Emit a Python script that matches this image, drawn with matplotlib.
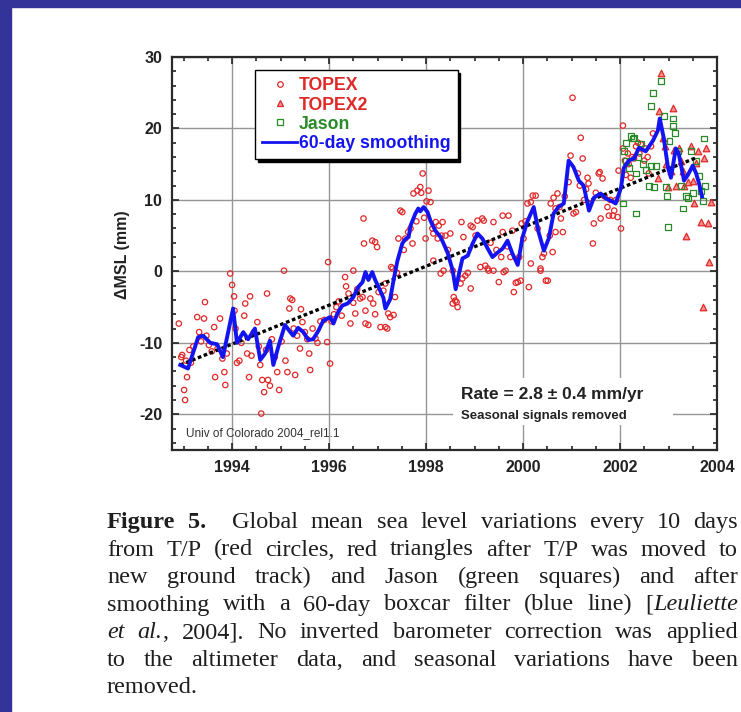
"""
Global mean sea level (T/P + Jason) figure with caption, redrawn from a slide.
Output: out.png (741 x 712 px)
"""

import matplotlib
matplotlib.use('Agg')
import matplotlib.pyplot as plt
from matplotlib.lines import Line2D
from matplotlib.patches import Rectangle
from matplotlib.ticker import MultipleLocator

plt.rcParams['font.family'] = ['Liberation Sans', 'DejaVu Sans']
plt.rcParams['axes.unicode_minus'] = False

# ============================ Data ============================
# TOPEX (red circles): decimal year, mm
topex_year = [
    1992.90, 1992.95, 1992.97, 1993.01, 1993.03, 1993.05, 1993.07, 1993.12, 1993.15, 1993.20,
    1993.28, 1993.32, 1993.36, 1993.42, 1993.44, 1993.47, 1993.52, 1993.58, 1993.63, 1993.65,
    1993.70, 1993.75, 1993.80, 1993.84, 1993.86, 1993.89, 1993.96, 1994.00, 1994.04, 1994.05,
    1994.07, 1994.10, 1994.15, 1994.19, 1994.25, 1994.27, 1994.31, 1994.35, 1994.37, 1994.40,
    1994.45, 1994.52, 1994.55, 1994.58, 1994.60, 1994.62, 1994.66, 1994.70, 1994.72, 1994.74,
    1994.78, 1994.82, 1994.88, 1994.93, 1994.97, 1995.02, 1995.07, 1995.10, 1995.14, 1995.18,
    1995.20, 1995.24, 1995.27, 1995.30, 1995.34, 1995.40, 1995.42, 1995.45, 1995.50, 1995.55,
    1995.59, 1995.61, 1995.66, 1995.72, 1995.76, 1995.82, 1995.90, 1995.96, 1995.98, 1996.02,
    1996.05, 1996.10, 1996.15, 1996.20, 1996.26, 1996.33, 1996.35, 1996.40, 1996.44, 1996.50,
    1996.50, 1996.54, 1996.58, 1996.64, 1996.69, 1996.71, 1996.72, 1996.75, 1996.75, 1996.81,
    1996.85, 1996.89, 1996.91, 1996.95, 1996.95, 1996.99, 1997.02, 1997.06, 1997.12, 1997.16,
    1997.16, 1997.20, 1997.22, 1997.26, 1997.28, 1997.31, 1997.33, 1997.36, 1997.40, 1997.43,
    1997.47, 1997.51, 1997.54, 1997.57, 1997.63, 1997.68, 1997.72, 1997.74, 1997.80, 1997.82,
    1997.88, 1997.90, 1997.93, 1997.96, 1997.99, 1998.01, 1998.05, 1998.09, 1998.13, 1998.15,
    1998.15, 1998.20, 1998.24, 1998.26, 1998.30, 1998.32, 1998.34, 1998.36, 1998.40, 1998.45,
    1998.50, 1998.55, 1998.55, 1998.57, 1998.60, 1998.63, 1998.65, 1998.71, 1998.73, 1998.75,
    1998.77, 1998.81, 1998.86, 1998.92, 1998.92, 1998.96, 1999.02, 1999.06, 1999.12, 1999.16,
    1999.19, 1999.22, 1999.27, 1999.29, 1999.33, 1999.39, 1999.39, 1999.45, 1999.50, 1999.55,
    1999.58, 1999.58, 1999.60, 1999.64, 1999.68, 1999.70, 1999.74, 1999.78, 1999.81, 1999.85,
    1999.89, 1999.92, 1999.95, 1999.97, 2000.01, 2000.05, 2000.09, 2000.12, 2000.16, 2000.16,
    2000.20, 2000.26, 2000.30, 2000.36, 2000.36, 2000.40, 2000.43, 2000.47, 2000.51, 2000.55,
    2000.57, 2000.61, 2000.63, 2000.67, 2000.67, 2000.71, 2000.75, 2000.78, 2000.82, 2000.86,
    2000.94, 2000.98, 2001.02, 2001.04, 2001.09, 2001.13, 2001.17, 2001.19, 2001.23, 2001.26,
    2001.30, 2001.33, 2001.35, 2001.38, 2001.44, 2001.46, 2001.50, 2001.56, 2001.58, 2001.60,
    2001.64, 2001.68, 2001.74, 2001.77, 2001.80, 2001.85, 2001.88, 2001.92, 2001.95, 2001.97,
    2002.02, 2002.06, 2002.06, 2002.10, 2002.12, 2002.16, 2002.18, 2002.22, 2002.25, 2002.29,
    2002.33, 2002.37, 2002.40, 2002.43, 2002.50, 2002.53, 2002.57, 2002.59, 2002.64, 2002.68,
]
topex_mm = [
    -7.3, -12.0, -11.7, -16.6, -18.0, -12.5, -14.8, -11.0, -12.8, -10.5,
    -6.4, -8.5, -9.8, -6.6, -4.3, -9.0, -10.3, -11.2, -7.8, -14.8,
    -10.8, -6.6, -12.2, -14.1, -15.9, -11.5, -0.3, -1.9, -3.5, -5.5,
    -8.0, -12.8, -12.5, -10.0, -6.2, -4.5, -11.5, -14.8, -3.5, -11.8,
    -8.5, -7.1, -10.5, -13.1, -19.9, -15.2, -16.9, -11.0, -3.1, -15.2,
    -16.0, -9.5, -12.0, -14.1, -16.6, -9.8, 0.1, -12.5, -14.1, -5.2,
    -3.8, -4.0, -8.0, -14.5, -9.0, -10.8, -5.3, -7.1, -8.5, -9.5,
    -11.5, -13.8, -8.0, -9.4, -10.0, -7.0, -6.8, -9.9, 1.3, -12.9,
    -7.0, -6.0, -5.0, -4.2, -6.2, -0.8, -2.1, -3.1, -7.3, 0.1,
    -4.4, -5.9, -2.5, -3.8, -3.6, 7.4, 3.9, -5.5, -7.3, -7.5,
    -3.8, 4.3, -4.5, 4.1, -6.0, 3.4, -2.9, -7.8, -2.7, -7.8,
    -1.7, -8.0, -5.9, -6.4, 0.6, 0.4, -6.1, -3.6, -0.2, 4.6,
    8.5, 8.3, 3.0, 4.6, 5.5, 6.0, 3.9, 10.9, 7.0, 11.3,
    11.8, 11.0, 13.7, 7.5, 4.6, 9.8, 11.3, 9.7, 6.0, 5.3,
    1.5, 6.9, 4.6, 6.4, -0.3, 5.0, 6.9, 0.1, 5.0, 3.0,
    5.3, 0.1, -4.5, -3.6, -4.1, -4.3, -5.0, -1.7, 6.9, -1.0,
    4.8, -0.6, -0.2, -2.4, 6.4, 6.2, 5.0, 7.1, 0.6, 7.4,
    7.1, 0.8, 0.4, 0.1, 4.0, 6.9, 0.1, 3.0, -1.5, 2.0,
    7.8, 5.5, -0.1, 0.1, 3.5, 7.8, 2.0, 5.7, -2.9, -1.6,
    -1.5, 2.0, -1.3, 6.7, 4.6, 7.0, 9.5, -2.2, 1.1, 9.7,
    10.6, 10.6, 6.0, 0.1, 0.4, 2.0, 2.5, -1.3, -1.3, 5.0,
    9.5, 2.7, 10.3, 5.5, 8.8, 10.9, 9.0, 7.4, 5.5, 10.5,
    12.5, 16.2, 24.3, 8.1, 8.3, 13.7, 12.0, 18.7, 15.8, 10.0,
    11.5, 13.1, 12.3, 9.5, 3.9, 6.7, 11.0, 13.7, 13.9, 7.4,
    13.0, 10.5, 9.0, 7.8, 10.0, 7.8, 8.5, 10.0, 7.6, 14.1,
    6.0, 20.4, 17.2, 15.5, 13.5, 16.5, 15.0, 13.1, 16.0, 15.8,
    17.5, 18.0, 16.5, 17.8, 15.5, 17.2, 16.0, 13.7, 17.5, 19.3,
]

# TOPEX2 (red triangles), after the move to the new ground track
topex2_year = [
    2002.78, 2002.80, 2002.84, 2002.88, 2002.92, 2002.95, 2002.99, 2003.05, 2003.09, 2003.12,
    2003.15, 2003.21, 2003.25, 2003.30, 2003.32, 2003.36, 2003.40, 2003.46, 2003.50, 2003.52,
    2003.57, 2003.61, 2003.67, 2003.71, 2003.73, 2003.77, 2003.81, 2003.83, 2003.88,
]
topex2_mm = [
    13.0, 22.5, 27.8, 18.7, 17.5, 15.0, 11.8, 14.1, 22.9, 17.0,
    12.0, 17.2, 15.5, 14.1, 12.0, 5.0, 12.5, 17.6, 12.7, 9.5,
    15.1, 16.9, 6.9, -5.0, 15.8, 17.2, 6.7, 1.3, 9.7,
]

# Jason (green squares)
jason_year = [
    2002.06, 2002.08, 2002.12, 2002.12, 2002.18, 2002.22, 2002.26, 2002.29, 2002.33, 2002.33,
    2002.37, 2002.43, 2002.47, 2002.53, 2002.59, 2002.64, 2002.64, 2002.68, 2002.70, 2002.74,
    2002.84, 2002.90, 2002.95, 2002.97, 2002.99, 2003.02, 2003.09, 2003.09, 2003.13, 2003.19,
    2003.25, 2003.30, 2003.36, 2003.40, 2003.46, 2003.50, 2003.57, 2003.63, 2003.67, 2003.71,
    2003.73, 2003.75,
]
jason_mm = [
    9.5, 16.9, 18.0, 15.5, 14.5, 19.0, 18.6, 18.7, 13.7, 8.1,
    16.0, 17.9, 15.0, 14.2, 12.0, 14.8, 23.2, 24.9, 11.8, 14.8,
    26.7, 21.8, 11.8, 10.6, 6.2, 18.3, 21.4, 20.4, 19.4, 16.9,
    12.0, 8.8, 10.6, 10.3, 16.9, 11.0, 15.5, 13.4, 11.3, 9.9,
    18.6, 12.0,
]

# 60-day smoothing (blue line)
smooth_year = [
    1992.93, 1993.09, 1993.30, 1993.40, 1993.55, 1993.69, 1993.81, 1994.02, 1994.10, 1994.23,
    1994.33, 1994.47, 1994.58, 1994.68, 1994.78, 1994.85, 1994.95, 1995.09, 1995.20, 1995.26,
    1995.36, 1995.47, 1995.57, 1995.67, 1995.78, 1995.88, 1996.02, 1996.09, 1996.17, 1996.27,
    1996.38, 1996.50, 1996.60, 1996.69, 1996.75, 1996.81, 1996.89, 1996.95, 1997.02, 1997.12,
    1997.16, 1997.26, 1997.33, 1997.41, 1997.51, 1997.57, 1997.64, 1997.68, 1997.78, 1997.84,
    1997.88, 1997.95, 1998.03, 1998.09, 1998.19, 1998.30, 1998.44, 1998.55, 1998.61, 1998.69,
    1998.75, 1998.86, 1998.96, 1999.06, 1999.16, 1999.27, 1999.37, 1999.47, 1999.58, 1999.68,
    1999.78, 1999.89, 1999.99, 2000.09, 2000.22, 2000.32, 2000.43, 2000.53, 2000.63, 2000.73,
    2000.84, 2000.94, 2001.04, 2001.15, 2001.25, 2001.36, 2001.46, 2001.60, 2001.71, 2001.81,
    2001.91, 2002.02, 2002.08, 2002.18, 2002.29, 2002.39, 2002.53, 2002.68, 2002.78, 2002.82,
    2002.90, 2002.99, 2003.05, 2003.15, 2003.21, 2003.32, 2003.40, 2003.50, 2003.57, 2003.63,
    2003.69,
]
smooth_mm = [
    -13.1, -13.6, -9.2, -9.0, -10.0, -10.2, -12.0, -5.2, -10.0, -8.5,
    -9.5, -8.0, -12.4, -11.5, -9.7, -13.1, -10.6, -7.5, -8.5, -9.0,
    -7.9, -8.5, -9.6, -9.5, -8.3, -6.9, -6.4, -7.3, -5.9, -4.8,
    -4.5, -3.6, -2.2, -1.5, -0.1, -1.2, -0.1, -1.2, -2.2, -3.7,
    -5.2, -3.9, -1.2, 1.5, 3.9, 4.5, 4.8, 6.4, 8.1, 8.8,
    8.4, 9.0, 8.3, 7.1, 5.7, 4.8, 2.7, 0.1, -2.5, 0.0,
    1.8, 2.2, 3.9, 5.3, 4.6, 3.2, 2.0, 2.6, 3.2, 4.3,
    2.5, 0.9, 4.8, 7.0, 9.0, 5.5, 2.9, 4.6, 8.1, 9.0,
    9.5, 15.5, 14.6, 12.7, 12.0, 8.5, 10.3, 10.9, 10.2, 9.9,
    9.5, 11.7, 14.5, 15.5, 15.8, 17.3, 16.8, 18.3, 19.7, 21.4,
    18.7, 14.5, 13.1, 17.2, 16.5, 12.7, 13.5, 14.8, 13.7, 12.3,
    10.5,
]

# Linear trend (2.8 mm/yr), end points
trend_year = [1992.93, 2003.57]
trend_mm = [-13.1, 15.9]

X_TICKS = [1994, 1996, 1998, 2000, 2002, 2004]
Y_TICKS = [-20, -10, 0, 10, 20, 30]

CAPTION = [
    [[('Figure', 'b')], [('5.', 'b')], None, [('Global', 'n')], [('mean', 'n')], [('sea', 'n')],
     [('level', 'n')], [('variations', 'n')], [('every', 'n')], [('10', 'n')], [('days', 'n')]],
    [[(w, 'n')] for w in 'from T/P (red circles, red triangles after T/P was moved to'.split()],
    [[(w, 'n')] for w in 'new ground track) and Jason (green squares) and after'.split()],
    [[(w, 'n')] for w in 'smoothing with a 60-day boxcar filter (blue line)'.split()]
    + [[('[', 'n'), ('Leuliette', 'i')]],
    [[('et', 'i')], [('al.', 'i'), (',', 'n')]]
    + [[(w, 'n')] for w in '2004]. No inverted barometer correction was applied'.split()],
    [[(w, 'n')] for w in 'to the altimeter data, and seasonal variations have been'.split()],
    [[('removed.', 'n')]],
]

# ============================ Style ============================
W_PX, H_PX = 741, 712
DPI = 100
BORDER = '#333399'
RED = '#e02828'
GREEN = '#2a8a2a'
BLUE = '#1414f0'
GRID = '#959595'


def px_ax(x0, y0, x1, y1):
    return [x0 / W_PX, 1 - y1 / H_PX, (x1 - x0) / W_PX, (y1 - y0) / H_PX]


def draw_caption(fig, lines, x0, x1, y0, step, size):
    """Justified caption: every line but the last is spread to x0..x1."""
    renderer = fig.canvas.get_renderer()
    styles = {'n': {}, 'b': {'weight': 'bold'}, 'i': {'style': 'italic'}}
    for i, line in enumerate(lines):
        y = 1 - (y0 + i * step) / H_PX
        words, widths, gaps = [], [], 0
        for word in line:
            if word is None:
                gaps += 1
                continue
            arts = []
            for seg, st in word:
                t = fig.text(0, y, seg, fontsize=size, color='#1e1e1e', va='baseline',
                             family=['Liberation Serif', 'DejaVu Serif'], **styles[st])
                arts.append((t, t.get_window_extent(renderer).width))
            words.append(arts)
            widths.append(sum(a[1] for a in arts))
            gaps += 1
        gaps -= 1
        if i == len(lines) - 1 or gaps <= 0:
            gap = size * DPI / 72 * 0.25
        else:
            gap = (x1 - x0 - sum(widths)) / gaps
        x = x0
        k = 0
        for word in line:
            if word is None:
                x += gap
                continue
            for t, w in words[k]:
                t.set_x(x / W_PX)
                x += w
            x += gap
            k += 1


def main():
    fig = plt.figure(figsize=(W_PX / DPI, H_PX / DPI), dpi=DPI)
    fig.add_artist(Rectangle((0, 0), 11 / W_PX, 1, transform=fig.transFigure,
                             color=BORDER, zorder=0))
    fig.add_artist(Rectangle((0, 1 - 7 / H_PX), 1, 7 / H_PX, transform=fig.transFigure,
                             color=BORDER, zorder=0))

    ax = fig.add_axes(px_ax(172, 57, 717, 450))
    ax.set_xlim(1992.76, 2004.0)
    ax.set_ylim(-25, 30)

    ax.scatter(topex_year, topex_mm, s=15, facecolors='none', edgecolors=RED,
               linewidths=0.9, zorder=3)
    ax.scatter(topex2_year, topex2_mm, marker='^', s=22, facecolors='#f29090',
               edgecolors=RED, linewidths=0.9, zorder=3)
    ax.scatter(jason_year, jason_mm, marker='s', s=18, facecolors='none',
               edgecolors=GREEN, linewidths=0.9, zorder=3)
    ax.plot(trend_year, trend_mm, color='black', lw=2.4, ls=(0, (1.1, 0.8)), zorder=4)
    ax.plot(smooth_year, smooth_mm, color=BLUE, lw=2.8, zorder=5)

    ax.set_xticks(X_TICKS)
    ax.set_yticks(Y_TICKS)
    ax.xaxis.set_minor_locator(MultipleLocator(0.5))
    ax.yaxis.set_minor_locator(MultipleLocator(2))
    ax.tick_params(which='both', direction='in', top=True, right=True, color='#222222')
    ax.tick_params(which='major', length=5, width=1.2, labelsize=11.5, pad=7)
    ax.tick_params(which='minor', length=3, width=1.2)
    for lab in ax.get_xticklabels() + ax.get_yticklabels():
        lab.set_fontweight('bold')
        lab.set_color('#222222')
    for sp in ax.spines.values():
        sp.set_linewidth(1.6)
        sp.set_color('#2a2a2a')
    ax.grid(True, which='major', color=GRID, lw=1.0)
    ax.set_axisbelow(True)

    # white panel behind the rate annotation
    ax.add_patch(Rectangle((0.5156, 0.064), 0.403, 0.119, transform=ax.transAxes,
                           facecolor='white', edgecolor='none', zorder=1))
    ax.text(0.530, 0.140, 'Rate = 2.8 \u00b1 0.4 mm/yr', transform=ax.transAxes,
            fontsize=12.5, fontweight='bold', color='#222222', va='center', zorder=6)
    ax.text(0.530, 0.086, 'Seasonal signals removed', transform=ax.transAxes,
            fontsize=9.5, fontweight='bold', color='#222222', va='center', zorder=6)
    ax.text(0.026, 0.043, 'Univ of Colorado 2004_rel1.1', transform=ax.transAxes,
            fontsize=8.5, color='#333333', va='center', zorder=6)

    fig.text(122 / W_PX, 1 - 255 / H_PX, '\u0394MSL (mm)', rotation=90, fontsize=11.5,
             fontweight='bold', color='#222222', ha='center', va='center')

    handles = [
        Line2D([], [], marker='o', ls='none', mfc='none', mec=RED, ms=4, mew=0.9),
        Line2D([], [], marker='^', ls='none', mfc='#f29090', mec=RED, ms=4.5, mew=0.9),
        Line2D([], [], marker='s', ls='none', mfc='none', mec=GREEN, ms=4, mew=0.9),
        Line2D([], [], color=BLUE, lw=2),
    ]
    labels = ['TOPEX', 'TOPEX2', 'Jason', '60-day smoothing']
    leg = ax.legend(handles, labels, loc='upper left', bbox_to_anchor=(0.152, 0.966),
                    borderaxespad=0, frameon=True, fancybox=False, framealpha=1,
                    edgecolor='black', shadow={'color': 'black', 'alpha': 1},
                    prop={'weight': 'bold', 'size': 12.7}, handlelength=2.0,
                    handletextpad=0.1, labelspacing=0.12, borderpad=0.4)
    leg.get_frame().set_linewidth(1.0)
    for t, c in zip(leg.get_texts(), [RED, RED, GREEN, BLUE]):
        t.set_color(c)
    leg.set_zorder(7)

    draw_caption(fig, CAPTION, 107, 738, 528, 27.5, 17.5)

    fig.savefig('out.png', dpi=DPI, facecolor='white')
    plt.close(fig)


if __name__ == '__main__':
    main()
